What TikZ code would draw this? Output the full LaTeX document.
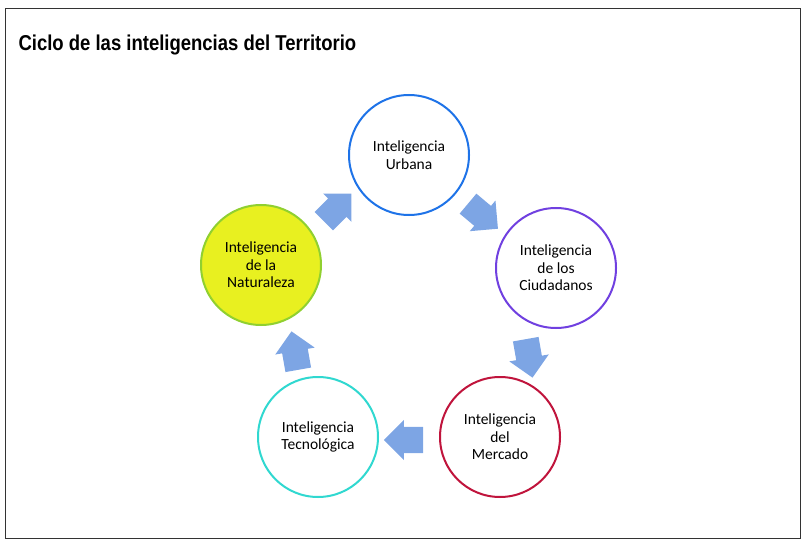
\documentclass[tikz,border=0pt]{standalone}
\usepackage{fontspec}
\setmainfont{Carlito}
\newfontfamily\titlefont{Liberation Sans}
\usetikzlibrary{shapes.arrows}
\definecolor{arrowblue}{RGB}{125,165,228}
\begin{document}
\begin{tikzpicture}[x=1pt,y=-1pt,
  circ/.style={circle,draw,line width=2pt,minimum size=120pt,align=center,font=\fontsize{15.5}{17.5}\selectfont,fill=white},
  blk/.style={single arrow,fill=arrowblue,draw=none,minimum height=36pt,inner xsep=0pt,inner ysep=9pt,single arrow head extend=7pt,shape border uses incircle}]
\useasboundingbox (0,0) rectangle (808,548);
\draw[line width=0.8pt,black!80] (5,8) rectangle (800,538);
\node[anchor=west,font=\titlefont\bfseries\fontsize{21.5}{24}\selectfont] (title) at (15,45) {\scalebox{0.86}[1]{Ciclo de las inteligencias del Territorio}};
\node[circ,draw={rgb,255:red,30;green,115;blue,232}] (u) at (409,155) {Inteligencia\\Urbana};
\node[circ,draw={rgb,255:red,112;green,64;blue,224}] (c) at (556,268) {Inteligencia\\de los\\Ciudadanos};
\node[circ,draw={rgb,255:red,192;green,20;blue,60}] (m) at (500,437) {Inteligencia\\del\\Mercado};
\node[circ,draw={rgb,255:red,48;green,216;blue,208}] (t) at (318,437) {Inteligencia\\Tecnológica};
\node[circ,draw={rgb,255:red,144;green,208;blue,48},fill={rgb,255:red,232;green,240;blue,32}] (n) at (261,265) {Inteligencia\\de la\\Naturaleza};
\node[blk,rotate=45] (a1) at (333,212) {};
\node[blk,rotate=-40] (a2) at (478,212) {};
\node[blk,rotate=-80] (a3) at (528,352) {};
\node[blk,rotate=180] (a4) at (410,440) {};
\node[blk,rotate=100] (a5) at (296,357) {};
\end{tikzpicture}
\end{document}
